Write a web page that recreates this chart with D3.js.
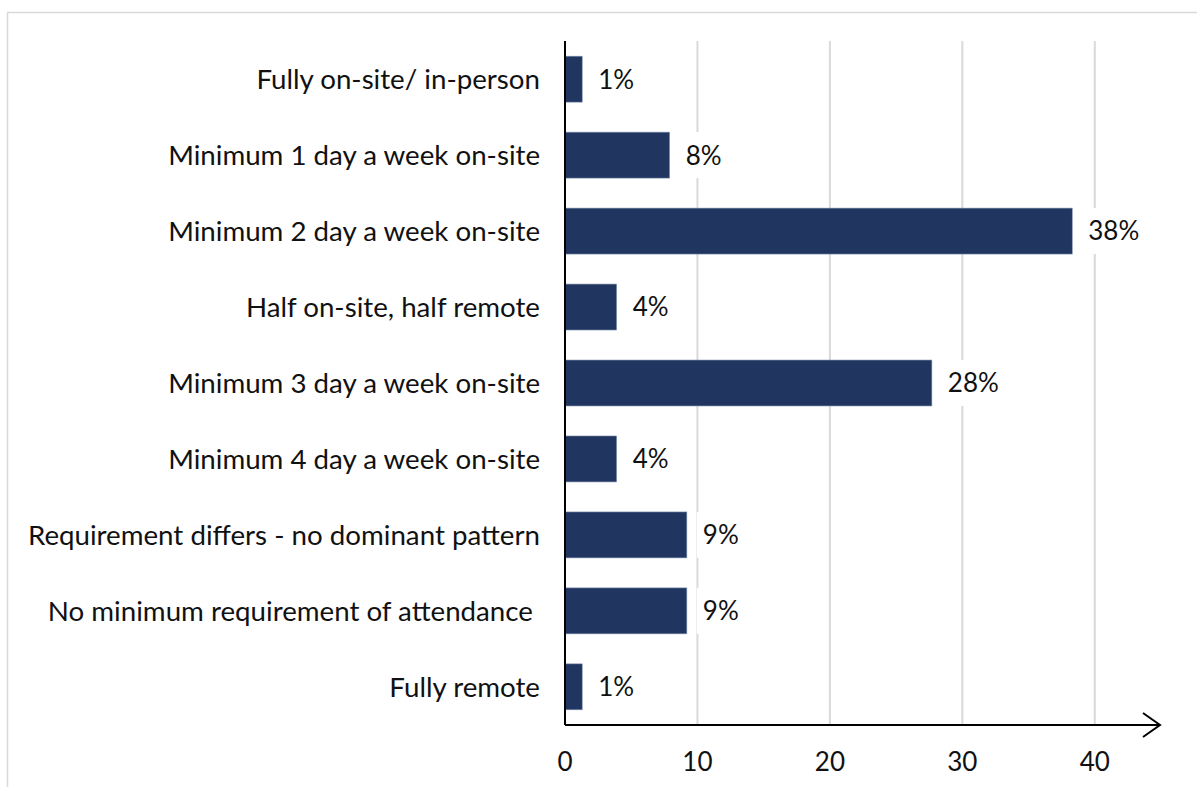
<!DOCTYPE html>
<html>
<head>
<meta charset="utf-8">
<script src="https://cdn.jsdelivr.net/npm/d3@7"></script>
<style>
  html, body { margin: 0; padding: 0; background: #fff; }
  text { font-family: Lato, "Open Sans", sans-serif; fill: #111; }
</style>
</head>
<body>
<div id="chart"></div>
<script>
const width = 1197;
const height = 787;

const categories = [
    "Fully on-site/ in-person",
    "Minimum 1 day a week on-site",
    "Minimum 2 day a week on-site",
    "Half on-site, half remote",
    "Minimum 3 day a week on-site",
    "Minimum 4 day a week on-site",
    "Requirement differs - no dominant pattern",
    "No minimum requirement of attendance ",
    "Fully remote"
];
const values = [1.3, 7.9, 38.3, 3.9, 27.7, 3.9, 9.2, 9.2, 1.3];
const valueLabels = ["1%", "8%", "38%", "4%", "28%", "4%", "9%", "9%", "1%"];
const xTicks = [0, 10, 20, 30, 40];

const data = categories.map((c, i) => ({ name: c, value: values[i], label: valueLabels[i] }));

const svg = d3.select("#chart")
    .append("svg")
    .attr("width", width)
    .attr("height", height);

// outer frame (only top and left edges show)
svg.append("rect")
    .attr("x", 7.5)
    .attr("y", 12.5)
    .attr("width", 1400)
    .attr("height", 1000)
    .attr("fill", "none")
    .attr("stroke", "#d9d9d9")
    .attr("stroke-width", 1.5);

const x = d3.scaleLinear()
    .domain([0, 45])
    .range([565, 1161]);

const y = d3.scaleBand()
    .domain(categories)
    .range([41, 725])
    .paddingInner(0.395)
    .paddingOuter(0.2);

// gridlines
svg.selectAll(".grid")
    .data(xTicks.filter(t => t > 0))
    .join("line")
    .attr("class", "grid")
    .attr("x1", d => x(d))
    .attr("x2", d => x(d))
    .attr("y1", 41)
    .attr("y2", 725)
    .attr("stroke", "#d9d9d9")
    .attr("stroke-width", 2);

// bars
svg.selectAll(".bar")
    .data(data)
    .join("rect")
    .attr("class", "bar")
    .attr("x", x(0))
    .attr("y", d => y(d.name))
    .attr("width", d => x(d.value) - x(0))
    .attr("height", y.bandwidth())
    .attr("fill", "#203560")
    .attr("stroke", "#8497b0")
    .attr("stroke-width", 0.6);

// value labels with white backing (they cut through gridlines)
const vl = svg.selectAll(".vlabel")
    .data(data)
    .join("g")
    .attr("class", "vlabel")
    .attr("transform", d => `translate(${x(d.value) + 16},${y(d.name) + y.bandwidth() / 2})`);

vl.append("rect")
    .attr("x", -6)
    .attr("y", -y.bandwidth() / 2)
    .attr("height", y.bandwidth())
    .attr("fill", "#fff");

vl.append("text")
    .attr("dy", "0.36em")
    .attr("font-size", "26px")
    .text(d => d.label)
    .each(function () {
        const w = this.getComputedTextLength();
        d3.select(this.parentNode).select("rect").attr("width", w + 12);
    });

// category labels
svg.selectAll(".clabel")
    .data(data)
    .join("text")
    .attr("class", "clabel")
    .attr("x", 540)
    .attr("y", d => y(d.name) + y.bandwidth() / 2)
    .attr("dy", "0.36em")
    .attr("text-anchor", "end")
    .attr("font-size", "27.7px")
    .attr("xml:space", "preserve")
    .style("white-space", "pre")
    .text(d => d.name);

// axis lines
svg.append("line")
    .attr("x1", x(0)).attr("x2", x(0))
    .attr("y1", 41).attr("y2", 725)
    .attr("stroke", "#000").attr("stroke-width", 2);

svg.append("line")
    .attr("x1", x(0)).attr("x2", 1160)
    .attr("y1", 725).attr("y2", 725)
    .attr("stroke", "#000").attr("stroke-width", 2);

svg.append("path")
    .attr("d", "M1143,713 L1160,725 L1143,737")
    .attr("fill", "none")
    .attr("stroke", "#000")
    .attr("stroke-width", 2);

// tick labels
svg.selectAll(".tick-label")
    .data(xTicks)
    .join("text")
    .attr("class", "tick-label")
    .attr("x", d => x(d))
    .attr("y", 762)
    .attr("dy", "0.36em")
    .attr("text-anchor", "middle")
    .attr("font-size", "26px")
    .text(d => d);
</script>
</body>
</html>
